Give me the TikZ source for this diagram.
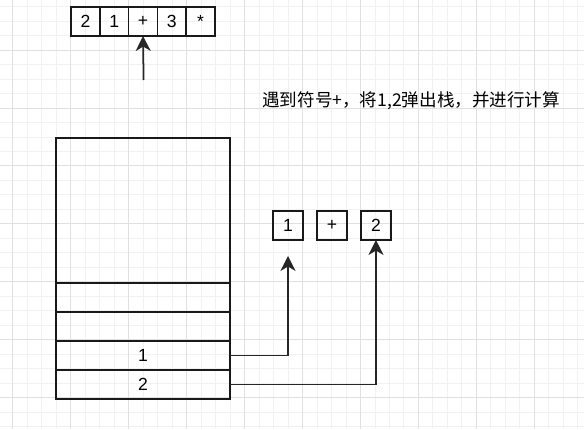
\documentclass[tikz,border=0pt]{standalone}
\usepackage{fontspec}
\setmainfont{Liberation Sans}
\newfontfamily\cjk{Noto Sans CJK SC}
\usetikzlibrary{positioning, arrows.meta}
\definecolor{gridminor}{HTML}{F1F1F1}
\definecolor{gridmajor}{HTML}{E0E0E0}

\begin{document}
\begin{tikzpicture}[
                x=0.02cm, y=-0.02cm,
                node distance=0pt,
                cell/.style={rectangle, draw=black!90, line width=0.9pt, minimum width=0.576cm, minimum height=0.58cm, inner sep=0pt, outer sep=0pt},
                slot/.style={rectangle, draw=black!90, line width=0.9pt, minimum width=3.48cm, minimum height=0.58cm, inner sep=0pt, outer sep=0pt},
                opbox/.style={cell, minimum width=0.6cm},
                arrow/.style={-{Stealth[length=8.5pt, width=8.5pt, inset=2.5pt]}, line width=1pt, black!85}
            ]
            % grid background
            \fill[white] (0,0) rectangle (584,429);
            \useasboundingbox (0,0) rectangle (584,429);
            \begin{scope}
                \clip (0,0) rectangle (584,429);
                \foreach \k in {0,...,39} \draw[gridminor, line width=0.5pt] (12.7+14.49*\k,0) -- ++(0,429);
                \foreach \k in {0,...,29} \draw[gridminor, line width=0.5pt] (0,6.53+14.49*\k) -- ++(584,0);
                \foreach \k in {0,...,9} \draw[gridmajor, line width=0.5pt] (12.7+57.95*\k,0) -- ++(0,429);
                \foreach \k in {1,...,7} \draw[gridmajor, line width=0.5pt] (0,-7.95+57.95*\k) -- ++(584,0);
            \end{scope}

            % expression
            \node[cell] (e1) at (85.4,21.5) {2};
            \node[cell, right=of e1] (e2) {1};
            \node[cell, right=of e2] (e3) {+};
            \node[cell, right=of e3] (e4) {3};
            \node[cell, right=of e4] (e5) {*};
            \coordinate (ptr) at (143.6,80);
            \draw[arrow] (ptr) -- (e3.south);

            \node[anchor=west, inner sep=0pt, font=\cjk] (note) at (262,100.5) {遇到符号+，将1,2弹出栈，并进行计算};

            % stack
            \node[slot, minimum height=2.9cm, anchor=north west] (free) at (56,138) {};
            \node[slot, below=of free] (s4) {};
            \node[slot, below=of s4] (s3) {};
            \node[slot, below=of s3] (s2) {1};
            \node[slot, below=of s2] (s1) {2};

            % operation
            \node[opbox] (lhs) at (288,225.5) {1};
            \node[opbox, right=0.28cm of lhs] (op) {+};
            \node[opbox, right=0.28cm of op] (rhs) {2};
            \coordinate[below=0.32cm of lhs.south] (lhsin);

            \draw[arrow] (s2.east) -| (lhsin);
            \draw[arrow] (s1.east) -| (rhs.south);
        \end{tikzpicture}
\end{document}
